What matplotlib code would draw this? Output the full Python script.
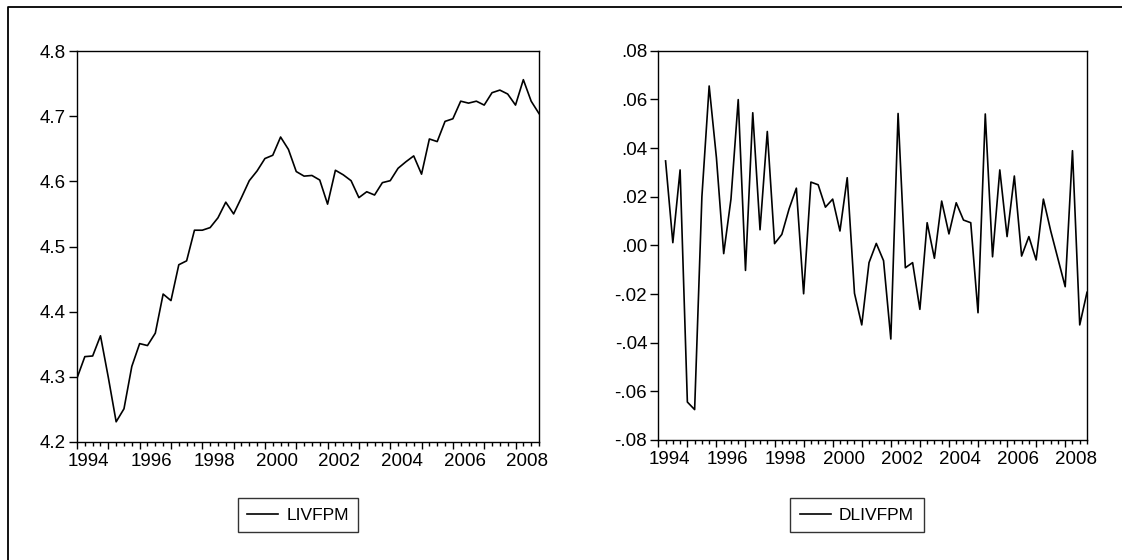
import numpy as np
import matplotlib.pyplot as plt
import matplotlib.ticker as mticker
from matplotlib.lines import Line2D

plt.rcParams['font.family'] = ['Liberation Sans', 'DejaVu Sans']

# quarterly sample 1994Q1 - 2008Q4
start_year = 1994
n_obs = 60
quarters = start_year + np.arange(n_obs) / 4.0

livfpm = [4.298, 4.331, 4.332, 4.363, 4.299, 4.231, 4.251, 4.316, 4.351, 4.348,
          4.367, 4.427, 4.417, 4.472, 4.478, 4.525, 4.525, 4.529, 4.544, 4.568,
          4.550, 4.575, 4.601, 4.616, 4.635, 4.640, 4.668, 4.649, 4.615, 4.608,
          4.609, 4.602, 4.565, 4.617, 4.610, 4.601, 4.575, 4.584, 4.579, 4.598,
          4.601, 4.620, 4.630, 4.639, 4.611, 4.665, 4.661, 4.692, 4.696, 4.723,
          4.720, 4.723, 4.717, 4.736, 4.740, 4.734, 4.717, 4.756, 4.723, 4.704]

# first difference, starts at 1994Q2
dlivfpm = [0.0347, 0.0011, 0.0310, -0.0644, -0.0675, 0.0200, 0.0655, 0.0360, -0.0034,
           0.0190, 0.0599, -0.0103, 0.0545, 0.0064, 0.0468, 0.0007, 0.0045, 0.0150,
           0.0235, -0.0199, 0.0260, 0.0249, 0.0157, 0.0190, 0.0059, 0.0278, -0.0197,
           -0.0327, -0.0071, 0.0008, -0.0063, -0.0385, 0.0542, -0.0092, -0.0071,
           -0.0263, 0.0093, -0.0053, 0.0182, 0.0047, 0.0175, 0.0104, 0.0093, -0.0277,
           0.0540, -0.0047, 0.0310, 0.0036, 0.0285, -0.0044, 0.0036, -0.0060, 0.0190,
           0.0060, -0.0055, -0.0170, 0.0389, -0.0327, -0.0193]

year_labels = ['1994', '1996', '1998', '2000', '2002', '2004', '2006', '2008']
fs = 13.5

fig = plt.figure(figsize=(11.22, 5.6), dpi=100)
ax1 = fig.add_axes([77 / 1122, 1 - 442 / 560, 462 / 1122, 391 / 560])
ax2 = fig.add_axes([658.3 / 1122, 1 - 440 / 560, 428.7 / 1122, 389.3 / 560])


def style_axis(ax):
    ax.set_xlim(start_year, start_year + (n_obs - 1) / 4.0)
    ax.set_xticks(np.arange(1994, 2009))
    ax.set_xticks(quarters, minor=True)
    ax.xaxis.set_major_formatter(mticker.NullFormatter())
    ax.tick_params(axis='x', which='major', direction='out', length=5.2, width=1)
    ax.tick_params(axis='x', which='minor', direction='out', length=3.0, width=1)
    ax.tick_params(axis='y', which='major', direction='out', length=6, width=1,
                   labelsize=fs, pad=2)
    ax.tick_params(top=False, right=False)
    for sp in ax.spines.values():
        sp.set_linewidth(1.0)
        sp.set_color('black')
    tr = ax.get_xaxis_transform()
    for lab in year_labels:
        ax.text(int(lab) + 0.375, -0.028, lab, transform=tr, ha='center', va='top',
                fontsize=fs)


ax1.plot(quarters, livfpm, color='black', lw=1.2, label='LIVFPM')
ax1.set_ylim(4.2, 4.8)
ax1.set_yticks(np.arange(4.2, 4.81, 0.1))
ax1.yaxis.set_major_formatter(mticker.FuncFormatter(lambda v, _: f"{v:.1f}"))
style_axis(ax1)

ax2.plot(quarters[1:], dlivfpm, color='black', lw=1.2, label='DLIVFPM')
ax2.set_ylim(-0.08, 0.08)
ax2.set_yticks(np.arange(-0.08, 0.081, 0.02))


def fmt_dot(v, _):
    s = f"{v:.2f}"
    if s == "-0.00":
        s = "0.00"
    return s.replace("0.", ".", 1)


ax2.yaxis.set_major_formatter(mticker.FuncFormatter(fmt_dot))
style_axis(ax2)

for ax, cx in [(ax1, 298 / 1122), (ax2, 857 / 1122)]:
    leg = ax.legend(loc='center', bbox_to_anchor=(cx, 1 - 515 / 560),
                    bbox_transform=fig.transFigure, fontsize=12.5, frameon=True,
                    fancybox=False, handlelength=1.8, handletextpad=0.45,
                    borderpad=0.55, borderaxespad=0)
    leg.get_frame().set_edgecolor('black')
    leg.get_frame().set_linewidth(1.0)

# outer frame (cropped at right and bottom)
fx = 8 / 1122
fy = 1 - 7 / 560
fig.add_artist(Line2D([fx, fx, 1], [0, fy, fy], transform=fig.transFigure,
                      color='black', lw=1.3))

fig.savefig('out.png', dpi=100)
